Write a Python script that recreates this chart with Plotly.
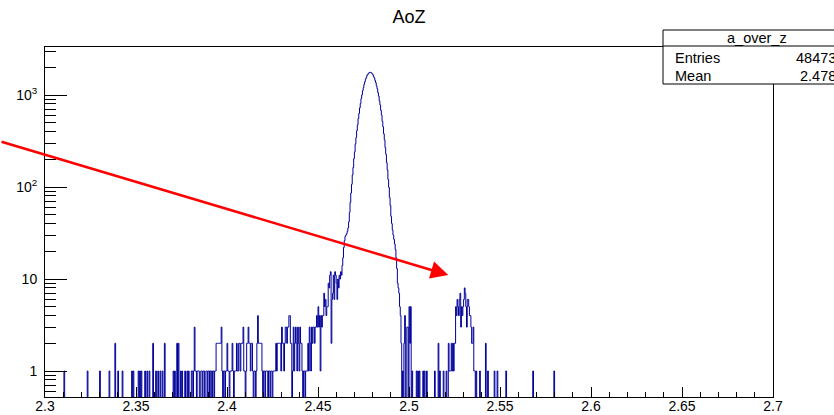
import plotly.graph_objects as go

# ---------------- data ----------------
hist_lo = 2.3
hist_hi = 2.7
bin_width = 0.0004

# isolated low-side bins: bin centre, entries
left_x = [2.3106, 2.3234, 2.3302, 2.3354, 2.3386, 2.3402, 2.3426, 2.3478, 2.3486, 2.3514,
          2.3522, 2.3530, 2.3550, 2.3562, 2.3574, 2.3594, 2.3610, 2.3622, 2.3634, 2.3646,
          2.3658, 2.3706, 2.3714, 2.3726, 2.3734, 2.3746, 2.3754, 2.3770, 2.3782, 2.3790]
left_n = [1, 1, 1, 1, 2, 1, 1, 1, 1, 1,
          1, 1, 1, 1, 1, 2, 1, 1, 1, 1,
          2, 1, 1, 2, 2, 1, 1, 1, 1, 1]

# contiguous block of bins, first bin centre = block_x0
block_x0 = 2.3802
block_n = [
    0, 1, 1, 0, 1, 3, 1, 1, 0, 1,
    1, 1, 0, 0, 1, 1, 0, 1, 1, 0,
    0, 1, 1, 0, 1, 1, 0, 1, 1, 0,
    1, 1, 0, 1, 1, 2, 2, 2, 2, 2,
    2, 2, 3, 1, 0, 1, 1, 0, 1, 1,
    2, 1, 1, 0, 1, 1, 1, 2, 1, 0,
    1, 1, 1, 2, 1, 1, 2, 2, 1, 2,
    2, 2, 3, 1, 1, 0, 1, 2, 2, 3,
    2, 2, 1, 2, 2, 1, 0, 1, 1, 0,
    1, 2, 4, 2, 2, 2, 2, 2, 1, 0,
    1, 1, 0, 1, 1, 1, 0, 1, 1, 0,
    1, 1, 0, 1, 1, 1, 1, 2, 1, 2,
    2, 2, 2, 2, 1, 3, 2, 2, 1, 2,
    3, 3, 2, 3, 3, 4, 4, 2, 2, 0,
    1, 3, 1, 2, 3, 2, 1, 3, 2, 1,
    3, 2, 2, 1, 0, 1, 1, 0, 1, 1,
    1, 2, 1, 3, 2, 1, 3, 2, 3, 3,
    2, 3, 3, 4, 3, 5, 3, 4, 1, 4,
    3, 4, 4, 7, 5, 6, 4, 5, 5, 9,
    8, 11, 12, 2, 6, 7, 11, 6, 12, 11,
    9, 6, 10, 8, 11, 10, 12, 11, 14, 17,
    22, 26, 29, 30, 31, 33, 36, 42, 53, 68,
    86, 107, 135, 163, 203, 241, 293, 344, 410, 473,
    555, 630, 724, 809, 914, 1003, 1112, 1201, 1308, 1391,
    1488, 1551, 1634, 1671, 1728, 1741, 1769, 1752, 1743, 1699,
    1662, 1592, 1531, 1441, 1362, 1259, 1171, 1062, 972, 866,
    779, 681, 604, 517, 451, 379, 326, 268, 227, 184,
    153, 121, 99, 77, 63, 48, 40, 34, 30, 27,
    24, 21, 17, 13, 9, 8, 7, 5,
]

# isolated high-side bins: bin centre, entries
right_x = [2.4954, 2.4958, 2.4966, 2.4974, 2.4978, 2.4990, 2.4994, 2.5002, 2.5006, 2.5010,
           2.5018, 2.5042, 2.5050, 2.5058, 2.5078, 2.5086, 2.5098, 2.5142, 2.5162, 2.5170,
           2.5190, 2.5206, 2.5218, 2.5222, 2.5226, 2.5230, 2.5234, 2.5238, 2.5242, 2.5246,
           2.5250, 2.5254, 2.5258, 2.5262, 2.5266, 2.5270, 2.5274, 2.5278, 2.5282, 2.5286,
           2.5290, 2.5294, 2.5298, 2.5302, 2.5306, 2.5310, 2.5314, 2.5318, 2.5322, 2.5326,
           2.5330, 2.5334, 2.5338, 2.5342, 2.5346, 2.5350, 2.5354, 2.5358, 2.5362, 2.5370,
           2.5390, 2.5422, 2.5434, 2.5470, 2.5486, 2.5534, 2.5682, 2.5798]
right_n = [4, 2, 1, 2, 4, 3, 3, 5, 2, 5,
           1, 1, 1, 1, 1, 1, 1, 1, 2, 1,
           1, 1, 2, 1, 1, 1, 2, 1, 2, 1,
           2, 2, 5, 4, 6, 5, 4, 6, 7, 3,
           5, 4, 5, 6, 8, 7, 5, 3, 6, 6,
           5, 4, 4, 3, 2, 2, 3, 1, 1, 1,
           1, 2, 1, 1, 1, 1, 1, 1]

x_tick_vals = [2.3, 2.35, 2.4, 2.45, 2.5, 2.55, 2.6, 2.65, 2.7]
x_tick_text = ["2.3", "2.35", "2.4", "2.45", "2.5", "2.55", "2.6", "2.65", "2.7"]
y_tick_vals = [1, 10, 100, 1000]
y_tick_text = ["1", "10", "10<sup>2</sup>", "10<sup>3</sup>"]
y_minor_vals = [0.6, 0.7, 0.8, 0.9, 2, 3, 4, 5, 6, 7, 8, 9,
                20, 30, 40, 50, 60, 70, 80, 90,
                200, 300, 400, 500, 600, 700, 800, 900, 2000, 3000]

chart_title = "AoZ"
stats_name = "a_over_z"
stats_labels = ["Entries", "Mean"]
stats_values = ["48473", "2.478"]

# ---------------- build histogram ----------------
nb = int(round((hist_hi - hist_lo) / bin_width))
counts = [0] * nb


def bin_index(xc):
    return int(round((xc - hist_lo) / bin_width - 0.5))


for xc, n in zip(left_x, left_n):
    counts[bin_index(xc)] += n
i0 = bin_index(block_x0)
for j, n in enumerate(block_n):
    counts[i0 + j] += n
for xc, n in zip(right_x, right_n):
    counts[bin_index(xc)] += n

edges = [hist_lo + i * bin_width for i in range(nb + 1)]
floor_val = 0.05  # empty bins drawn below the visible axis range (as ROOT does)
ys = [c if c > 0 else floor_val for c in counts]
xs_step = edges[:-1] + [edges[-1]]
ys_step = ys + [ys[-1]]

FONT = "Liberation Sans, Arial, Helvetica, sans-serif"
L, R, T, B = 45, 61, 47, 18
W, H = 834, 415
PW, PH = W - L - R, H - T - B


def px2paper_x(px):
    return (px - L) / PW


def py2paper_y(py):
    return (H - B - py) / PH


fig = go.Figure()
fig.add_trace(go.Scatter(
    x=xs_step, y=ys_step, mode="lines",
    line=dict(color="#000099", width=1, shape="hv", simplify=False),
    hoverinfo="skip", showlegend=False,
))

fig.update_layout(
    width=W, height=H,
    margin=dict(l=L, r=R, t=T, b=B, pad=0, autoexpand=False),
    paper_bgcolor="white", plot_bgcolor="white",
    font=dict(family=FONT, size=14, color="black"),
    showlegend=False,
    title=dict(text=chart_title, x=0.5, xref="paper", xanchor="center",
               y=1 - 17 / H, yref="container", yanchor="middle", automargin=False,
               font=dict(family=FONT, size=18, color="black")),
    xaxis=dict(
        range=[hist_lo, hist_hi], showgrid=False, zeroline=False, automargin=False,
        showline=True, linecolor="black", linewidth=1, mirror=True,
        tickmode="array", tickvals=x_tick_vals, ticktext=x_tick_text,
        ticks="inside", ticklen=10, tickwidth=1, tickcolor="black",
        minor=dict(ticks="inside", ticklen=5, tickwidth=1, tickcolor="black",
                   tick0=2.3, dtick=0.01, showgrid=False),
        tickfont=dict(family=FONT, size=14, color="black"),
        ticklabelstandoff=-4,
    ),
    yaxis=dict(
        type="log", range=[-0.2826, 3.5217], showgrid=False, zeroline=False,
        automargin=False,
        showline=True, linecolor="black", linewidth=1, mirror=True,
        tickmode="array", tickvals=y_tick_vals, ticktext=y_tick_text,
        ticks="inside", ticklen=22, tickwidth=1, tickcolor="black",
        minor=dict(ticks="inside", ticklen=11, tickwidth=1, tickcolor="black",
                   tickmode="array", tickvals=y_minor_vals, showgrid=False),
        tickfont=dict(family=FONT, size=14, color="black"),
        ticklabelstandoff=4,
    ),
)

# ---------------- stats box ----------------
bx0, bx1 = px2paper_x(663), px2paper_x(851)
by0, by1 = py2paper_y(84), py2paper_y(30)
fig.add_shape(type="rect", xref="paper", yref="paper", x0=bx0, x1=bx1, y0=by0, y1=by1,
              line=dict(color="black", width=1), fillcolor="white", layer="above")
fig.add_shape(type="line", xref="paper", yref="paper", x0=bx0, x1=bx1,
              y0=py2paper_y(46), y1=py2paper_y(46), line=dict(color="black", width=1))
fig.add_annotation(xref="paper", yref="paper", x=px2paper_x(757), y=py2paper_y(38),
                   text=stats_name, showarrow=False, xanchor="center", yanchor="middle",
                   font=dict(family=FONT, size=14.5, color="black"))
for i, (lab, val) in enumerate(zip(stats_labels, stats_values)):
    yy = py2paper_y(58 + 17.5 * i)
    fig.add_annotation(xref="paper", yref="paper", x=px2paper_x(673), y=yy, text=lab,
                       showarrow=False, xanchor="left", yanchor="middle",
                       font=dict(family=FONT, size=14.5, color="black"))
    fig.add_annotation(xref="paper", yref="paper", x=px2paper_x(838), y=yy, text=val,
                       showarrow=False, xanchor="right", yanchor="middle",
                       font=dict(family=FONT, size=14.5, color="black"))

# ---------------- red arrow ----------------
tip_px, tip_py = 448.3, 275
tail_px, tail_py = -20, 141.3
fig.add_annotation(xref="paper", yref="paper", x=px2paper_x(tip_px), y=py2paper_y(tip_py),
                   ax=tail_px - tip_px, ay=tail_py - tip_py, text="", showarrow=True,
                   arrowcolor="#ff0000", arrowwidth=2.5, arrowhead=2, arrowsize=1.4,
                   standoff=0)

fig.write_html("out.html")
